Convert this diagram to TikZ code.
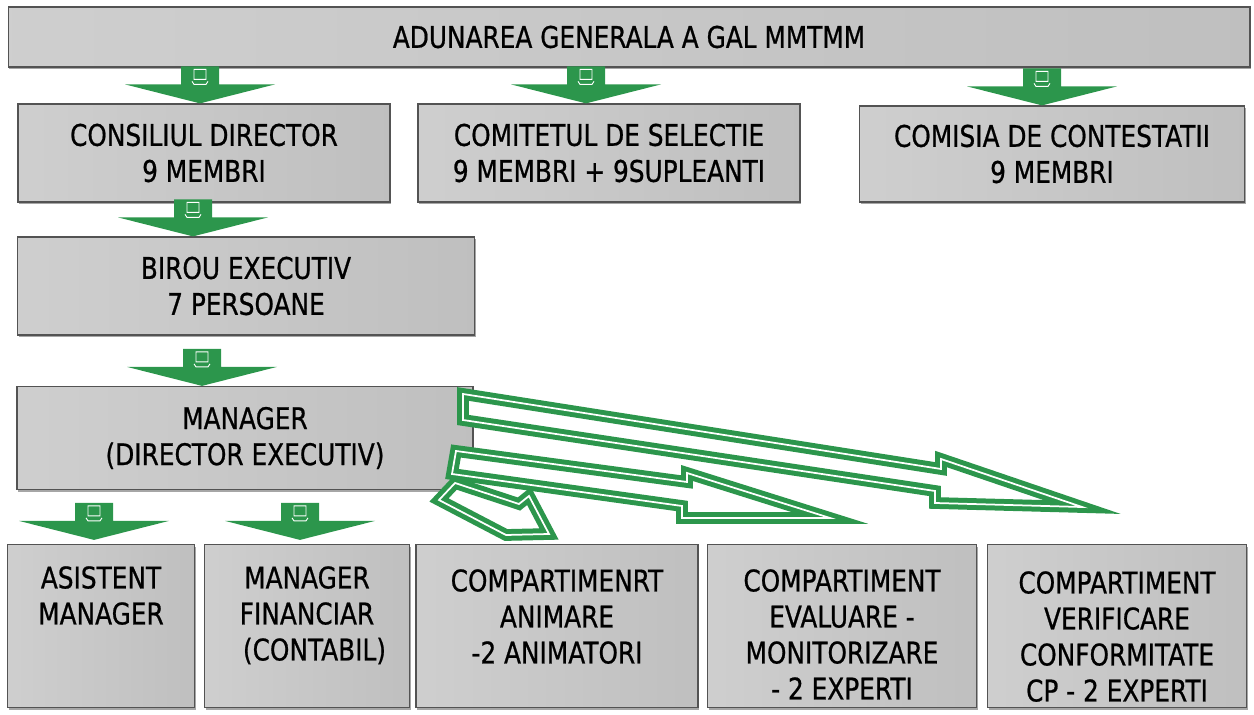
\documentclass[tikz,border=0pt]{standalone}
\usepackage{fontspec}
\setmainfont{DejaVu Sans}[FakeStretch=0.83,FakeBold=0.7]
\usetikzlibrary{positioning,calc,shadows}
\definecolor{galgreen}{RGB}{44,150,76}
\newcommand{\boxfont}{\fontsize{17pt}{20.5pt}\selectfont}

\begin{document}
\begin{tikzpicture}[x=0.02cm,y=-0.02cm,
    box/.style={draw=gray!65!black,line width=0.7pt,left color=gray!38,middle color=gray!12,right color=gray!50,
      drop shadow={shadow xshift=0.6pt,shadow yshift=-1.4pt,opacity=0.7},align=center,font=\boxfont,inner sep=0pt},
    boxtext/.style={align=center,font=\boxfont,inner sep=0pt},
    hollow/.style={draw=galgreen,line width=0.1cm,double=white,double distance=0.035cm,fill=white,line join=miter,miter limit=12},
    chev/.pic={
      \fill[galgreen] (-19,-37) -- (19,-37) -- (19,-19) -- (75,-19) -- (0,0) -- (-75,-19) -- (-19,-19) -- cycle;
      \draw[white,line width=0.5pt] (-6,-34) rectangle (6,-24) (-8,-22) -- (-6,-19) -- (6,-19) -- (8,-22);
    }]
  \useasboundingbox (0,0) rectangle (1254,715);

  \node[box,minimum width=24.84cm,minimum height=1.2cm] (adun) at (629,37) {ADUNAREA GENERALA A GAL MMTMM};

  \node[box,minimum width=7.44cm,minimum height=1.96cm] (cons)  at (204,153)  {CONSILIUL DIRECTOR\\9 MEMBRI};
  \node[box,minimum width=7.64cm,minimum height=1.96cm] (comit) at (609,153)  {COMITETUL DE SELECTIE\\9 MEMBRI + 9SUPLEANTI};
  \node[box,minimum width=7.7cm,minimum height=1.92cm]  (comis) at (1052,154) {COMISIA DE CONTESTATII\\9 MEMBRI};

  \node[box,minimum width=9.14cm,minimum height=1.96cm] (birou) at (246,286) {BIROU EXECUTIV\\7 PERSOANE};
  \node[box,minimum width=9.12cm,minimum height=2.06cm] (mgr)   at (245,438) {MANAGER\\(DIRECTOR EXECUTIV)};

  % bottom row, text hangs from the top edge
  \node[box,minimum width=3.74cm,minimum height=3.26cm] (asist) at (101,626) {};
  \node[box,minimum width=4.1cm,minimum height=3.26cm]  (finan) at (307,626) {};
  \node[box,minimum width=5.64cm,minimum height=3.26cm] (anim)  at (557,626) {};
  \node[box,minimum width=5.38cm,minimum height=3.26cm] (eval)  at (842,626) {};
  \node[box,minimum width=5.18cm,minimum height=3.26cm] (verif) at (1117,626) {};

  \node[boxtext,below=0.44cm of asist.north] (asistt) {ASISTENT\\MANAGER};
  \node[boxtext,below=0.44cm of finan.north] (finant) {MANAGER\\FINANCIAR\\\hspace*{0.5em}(CONTABIL)};
  \node[boxtext,below=0.5cm of anim.north]   (animt)  {COMPARTIMENRT\\ANIMARE\\-2 ANIMATORI};
  \node[boxtext,below=0.5cm of eval.north]   (evalt)  {COMPARTIMENT\\EVALUARE -\\MONITORIZARE\\- 2 EXPERTI};
  \node[boxtext,below=0.54cm of verif.north] (verift) {COMPARTIMENT\\VERIFICARE\\CONFORMITATE\\CP - 2 EXPERTI};

  \pic at ($(cons.north)+(-4,0)$)    {chev};
  \pic at ($(comit.north)+(-23,0)$)  {chev};
  \pic at ($(comis.north)+(-10,0)$)  {chev};
  \pic at ($(birou.north)+(-53,0)$)  {chev};
  \pic at ($(mgr.north)+(-43,0)$)    {chev};
  \pic at ($(asist.north)+(-7,-4)$)  {chev};
  \pic at ($(finan.north)+(-7,-4)$)  {chev};

  \draw[hollow] (463,394) -- (941,469) -- (941,459) -- (1082,507) -- (935,503) -- (935,491) -- (463,420) -- cycle;
  \draw[hollow] (456,451) -- (687,482) -- (687,473) -- (830,518) -- (682,518) -- (682,506) -- (452,474) -- cycle;
  \draw[hollow] (455,483) -- (519,504) -- (529,496) -- (549,534) -- (506,535) -- (439,500) -- cycle;

\end{tikzpicture}
\end{document}
